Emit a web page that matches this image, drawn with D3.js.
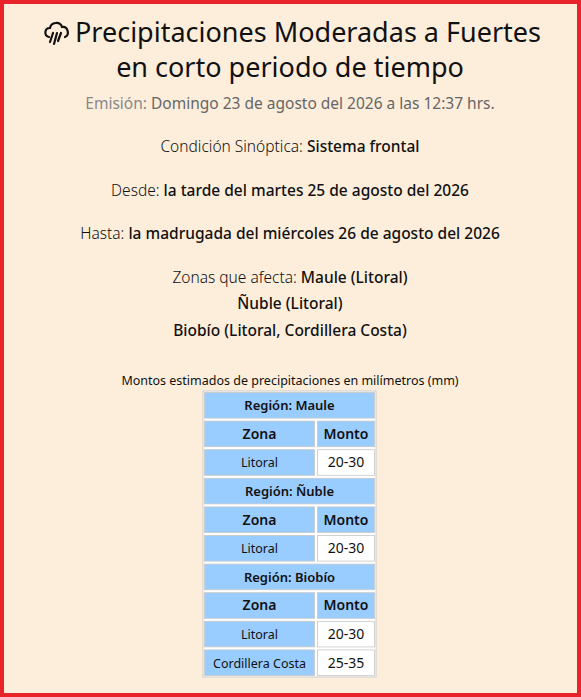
<!DOCTYPE html>
<html><head><meta charset="utf-8">
<script src="https://cdn.jsdelivr.net/npm/d3@7"></script>
<style>body{margin:0;background:#fff;}svg{display:block;font-family:"Noto Sans",sans-serif;}</style>
</head><body>
<script>
var titleLines = ['Precipitaciones Moderadas a Fuertes', 'en corto periodo de tiempo'];
var infoLines = [
  {label: 'Condición Sinóptica: ', value: 'Sistema frontal', y: 146},
  {label: 'Desde: ', value: 'la tarde del martes 25 de agosto del 2026', y: 190},
  {label: 'Hasta: ', value: 'la madrugada del miércoles 26 de agosto del 2026', y: 233},
  {label: 'Zonas que afecta: ', value: 'Maule (Litoral)', y: 277},
  {label: '', value: 'Ñuble (Litoral)', y: 303},
  {label: '', value: 'Biobío (Litoral, Cordillera Costa)', y: 330}
];
var regions = ['Maule', 'Ñuble', 'Biobío'];
var zonas = [['Litoral'], ['Litoral'], ['Litoral', 'Cordillera Costa']];
var montos = [['20-30'], ['20-30'], ['20-30', '25-35']];

var W = 581, H = 697;
var svg = d3.select('body').append('svg').attr('width', W).attr('height', H);
svg.append('rect').attr('x', 2).attr('y', 2).attr('width', W - 4).attr('height', H - 4)
  .attr('fill', '#fdeedc').attr('stroke', '#e8232a').attr('stroke-width', 4);

// title
titleLines.forEach(function(t, i) {
  svg.append('text').attr('x', i === 0 ? 308 : 290).attr('y', 42 + i * 35)
    .attr('text-anchor', 'middle').attr('font-size', 27).attr('fill', '#111').text(t);
});
// rain cloud icon
var ic = svg.append('g').attr('transform', 'translate(44,20)').attr('fill', 'none')
  .attr('stroke', '#111').attr('stroke-width', 2.2).attr('stroke-linecap', 'round');
ic.append('path').attr('d', 'M5,17 C0,16 0,8 6,8 C7,2 16,1 18,7 C24,6 26,15 21,17');
[[9, 13, 6, 22], [13, 13, 10, 24], [17, 13, 14, 21]].forEach(function(l) {
  ic.append('line').attr('x1', l[0]).attr('y1', l[1]).attr('x2', l[2]).attr('y2', l[3]);
});

// emision
var em = svg.append('text').attr('x', 290).attr('y', 109).attr('text-anchor', 'middle').attr('font-size', 15.5);
em.append('tspan').attr('fill', '#888').text('Emisión: ');
em.append('tspan').attr('fill', '#666').text('Domingo 23 de agosto del 2026 a las 12:37 hrs.');

infoLines.forEach(function(d) {
  var t = svg.append('text').attr('x', 290).attr('y', d.y + 6).attr('text-anchor', 'middle').attr('font-size', 15.5).attr('fill', '#111');
  if (d.label) t.append('tspan').attr('font-weight', 300).text(d.label);
  t.append('tspan').attr('font-weight', 500).text(d.value);
});

svg.append('text').attr('x', 290).attr('y', 385).attr('text-anchor', 'middle')
  .attr('font-size', 12.5).attr('fill', '#111').text('Montos estimados de precipitaciones en milímetros (mm)');

// table rows
var rows = [];
regions.forEach(function(r, i) {
  rows.push({type: 'region', text: 'Región: ' + r});
  rows.push({type: 'head'});
  zonas[i].forEach(function(z, j) { rows.push({type: 'data', zona: z, monto: montos[i][j]}); });
});
var x0 = 203, x1 = 316, x2 = 376;
var y = d3.scaleBand().domain(d3.range(rows.length)).range([391, 677]);
svg.append('rect').attr('x', x0).attr('y', 391).attr('width', x2 - x0).attr('height', 286)
  .attr('fill', '#fff').attr('stroke', '#ccc');
var g = svg.selectAll('g.row').data(rows).enter().append('g').attr('class', 'row')
  .attr('transform', function(d, i) { return 'translate(0,' + y(i) + ')'; });
var h = y.bandwidth(), p = 1.5;
function cell(sel, xa, xb, fill, txt, weight, size) {
  sel.append('rect').attr('x', xa + p).attr('y', p).attr('width', xb - xa - 2 * p).attr('height', h - 2 * p)
    .attr('fill', fill).attr('stroke', '#c8c8c8').attr('stroke-width', 0.8);
  sel.append('text').attr('x', (xa + xb) / 2).attr('y', h / 2 + 5).attr('text-anchor', 'middle')
    .attr('font-size', size).attr('font-weight', weight).attr('fill', '#111').text(txt);
}
g.each(function(d) {
  var s = d3.select(this);
  if (d.type === 'region') cell(s, x0, x2, '#99ccff', d.text, 600, 13);
  else if (d.type === 'head') { cell(s, x0, x1, '#99ccff', 'Zona', 600, 14); cell(s, x1, x2, '#99ccff', 'Monto', 600, 14); }
  else { cell(s, x0, x1, '#99ccff', d.zona, 400, 12.5); cell(s, x1, x2, '#fff', d.monto, 400, 14); }
});
</script>
</body></html>
